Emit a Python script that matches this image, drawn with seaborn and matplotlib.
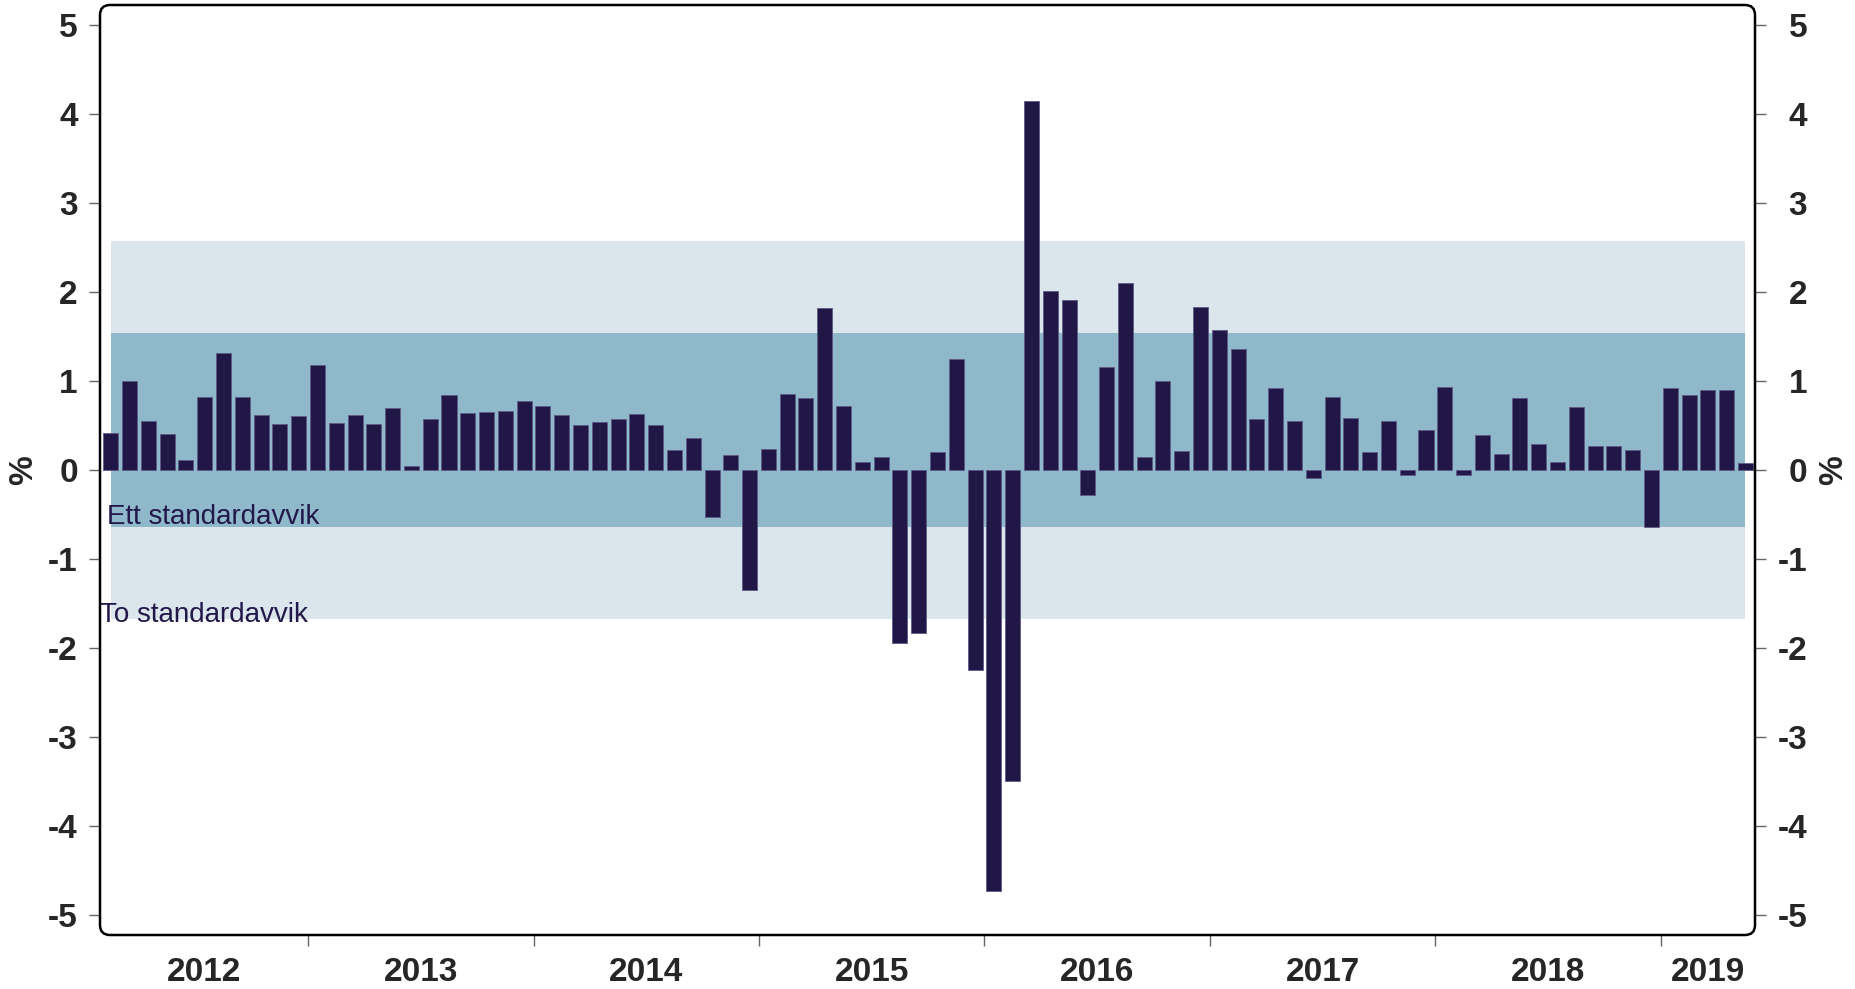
import numpy as np
import pandas as pd
import matplotlib
matplotlib.use("Agg")
import matplotlib.pyplot as plt
import matplotlib.transforms as mtrans
from matplotlib.patches import FancyBboxPatch
from matplotlib.transforms import IdentityTransform
import seaborn as sns

# ---- data ----
start_month = "2012-02"
values = [0.42, 1.01, 0.55, 0.41, 0.12, 0.83, 1.32, 0.83, 0.62, 0.52, 0.61,
          1.18, 0.53, 0.62, 0.52, 0.70, 0.05, 0.58, 0.85, 0.64, 0.66, 0.67, 0.78,
          0.72, 0.62, 0.51, 0.54, 0.58, 0.63, 0.51, 0.23, 0.37, -0.52, 0.17, -1.34,
          0.24, 0.86, 0.81, 1.82, 0.72, 0.09, 0.15, -1.94, -1.83, 0.21, 1.25, -2.24,
          -4.72, -3.49, 4.15, 2.02, 1.91, -0.28, 1.16, 2.11, 0.15, 1.00, 0.22, 1.84,
          1.58, 1.37, 0.58, 0.93, 0.55, -0.09, 0.82, 0.59, 0.21, 0.55, -0.05, 0.45,
          0.94, -0.05, 0.40, 0.19, 0.81, 0.30, 0.09, 0.71, 0.27, 0.27, 0.23, -0.63,
          0.93, 0.85, 0.90, 0.90, 0.08]
months = pd.period_range(start_month, periods=len(values), freq="M")
month_labels = [str(m) for m in months]
years = ["2012", "2013", "2014", "2015", "2016", "2017", "2018", "2019"]
one_sd = (-0.63, 1.54)
two_sd = (-1.67, 2.58)
band_labels = ["Ett standardavvik", "To standardavvik"]
y_ticks = [-5, -4, -3, -2, -1, 0, 1, 2, 3, 4, 5]

# ---- style ----
bar_color = "#201747"
dark_band = "#8FB8CA"
light_band = "#DAE5EC"
text_color = "#22184A"
FS = 24

sns.set_style("white")
plt.rcParams["font.family"] = ["Liberation Sans", "DejaVu Sans"]

W, H, DPI = 1855, 989, 100
fig = plt.figure(figsize=(W / DPI, H / DPI), dpi=DPI)
left, right, top, bottom = 100, 1755, 5, 935
ax = fig.add_axes([left / W, 1 - bottom / H, (right - left) / W, (bottom - top) / H])

df = pd.DataFrame({"month": month_labels, "value": values})

n = len(values)
ax.fill_between([0, n - 1], two_sd[0], two_sd[1], color=light_band, lw=0, zorder=0)
ax.fill_between([0, n - 1], one_sd[0], one_sd[1], color=dark_band, lw=0, zorder=0.5)

sns.barplot(data=df, x="month", y="value", color=bar_color, saturation=1,
            width=0.8, edgecolor="#5E5A86", linewidth=0.6, ax=ax, zorder=2)

ax.set_xlim(-0.575, n - 1 + 0.51)
ax.set_ylim(-5.22, 5.23)

# y ticks both sides
ax.set_yticks(y_ticks)
ax.set_yticklabels([str(t) for t in y_ticks])
ax.tick_params(axis="y", which="both", left=True, right=True, labelleft=True,
               labelright=True, length=8, width=1, color="#666666",
               labelsize=FS, pad=8)
offset = mtrans.ScaledTranslation(0.30, 0, fig.dpi_scale_trans)
for t in ax.yaxis.get_major_ticks():
    t.label1.set_fontweight("bold")
    t.label2.set_fontweight("bold")
    t.label2.set_horizontalalignment("right")
    t.label2.set_transform(t.label2.get_transform() + offset)

# x axis: year labels centered in each year's span, boundary ticks as minor
boundaries = [i - 0.5 for i, m in enumerate(months) if m.month == 1]
x0, x1 = ax.get_xlim()
edges = [x0] + boundaries + [x1]
centers = [(edges[i] + edges[i + 1]) / 2 for i in range(len(edges) - 1)]
ax.set_xticks(centers)
ax.set_xticklabels(years, fontsize=FS, fontweight="bold")
ax.set_xticks(boundaries, minor=True)
ax.tick_params(axis="x", which="major", length=0, pad=16)
ax.tick_params(axis="x", which="minor", bottom=True, length=8, width=1, color="#666666")
ax.set_xlabel("")
ax.set_ylabel("")

# % labels
ax.text(-0.046, 0.4995, "%", transform=ax.transAxes, rotation=90, fontsize=FS,
        fontweight="bold", ha="center", va="center")
ax.text(1.0475, 0.4995, "%", transform=ax.transAxes, rotation=90, fontsize=FS,
        fontweight="bold", ha="center", va="center")

# band labels
ax.text(-0.2, -0.60, band_labels[0], fontsize=20, color=text_color, va="baseline",
        ha="left", zorder=3)
ax.text(-0.575, -1.70, band_labels[1], fontsize=20, color=text_color, va="baseline",
        ha="left", zorder=3)

# rounded frame
for s in ax.spines.values():
    s.set_visible(False)
frame = FancyBboxPatch((left, H - bottom), right - left, bottom - top,
                       boxstyle="round,pad=0,rounding_size=10",
                       transform=IdentityTransform(), fill=False,
                       edgecolor="black", linewidth=1.8, clip_on=False, zorder=5)
fig.patches.append(frame)
frame.set_figure(fig)

fig.savefig("out.png", dpi=DPI)
